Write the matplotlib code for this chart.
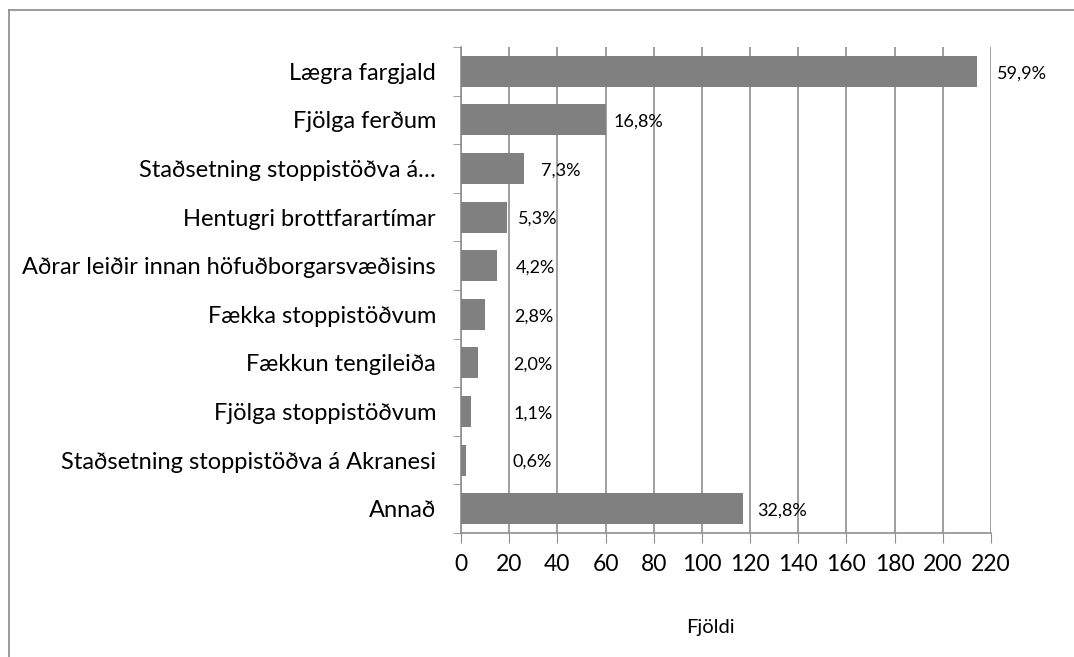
import numpy as np
import matplotlib
matplotlib.use('Agg')
import matplotlib.pyplot as plt
from matplotlib.lines import Line2D

categories = [
    'Lægra fargjald',
    'Fjölga ferðum',
    'Staðsetning stoppistöðva á…',
    'Hentugri brottfarartímar',
    'Aðrar leiðir innan höfuðborgarsvæðisins',
    'Fækka stoppistöðvum',
    'Fækkun tengileiða',
    'Fjölga stoppistöðvum',
    'Staðsetning stoppistöðva á Akranesi',
    'Annað',
]
counts = [214, 60, 26, 19, 15, 10, 7, 4, 2, 117]
percent_labels = ['59,9%', '16,8%', '7,3%', '5,3%', '4,2%',
                  '2,8%', '2,0%', '1,1%', '0,6%', '32,8%']
x_ticks = list(range(0, 221, 20))

# label offsets from bar end, in pixels (labels were hand placed in the original)
label_offsets = [20, 8, 17, 11, 19, 29, 35, 43, 47, 14]

plt.rcParams['font.family'] = ['Lato', 'DejaVu Sans']

fig = plt.figure(figsize=(10.74, 6.57), dpi=100)
ax = fig.add_axes([461 / 1074, 1 - 533 / 657, 530 / 1074, 486 / 657])

grid_col = '#8f8f8f'
y = np.arange(len(categories))
ax.barh(y, counts, height=0.64, color='#808080', zorder=3)

ax.set_xlim(0, 220)
ax.set_ylim(len(categories) - 0.5, -0.5)
ax.set_xticks(x_ticks)
ax.set_xticklabels([str(t) for t in x_ticks], fontsize=16.5)
ax.set_yticks(y)
ax.set_yticklabels(categories, fontsize=17)
ax.set_yticks(np.arange(-0.5, len(categories)), minor=True)
ax.tick_params(axis='y', which='major', length=0, pad=18)
ax.tick_params(axis='y', which='minor', length=6, color=grid_col, direction='out')
ax.tick_params(axis='x', length=7, color=grid_col, pad=8)
ax.xaxis.grid(True, color=grid_col, linewidth=1.2, zorder=0)

for side in ['top', 'right']:
    ax.spines[side].set_visible(False)
for side in ['left', 'bottom']:
    ax.spines[side].set_color(grid_col)
    ax.spines[side].set_linewidth(1.2)

for yi, (v, lab, off) in enumerate(zip(counts, percent_labels, label_offsets)):
    ax.annotate(lab, xy=(v, yi), xytext=(off, -2), textcoords='offset pixels',
                ha='left', va='center', fontsize=13, zorder=4)

fig.text(710 / 1074, 1 - 627 / 657, 'Fjöldi', ha='center', va='center', fontsize=14.5)

# outer chart frame (runs off the right and bottom edge)
fig.add_artist(Line2D([9 / 1074, 9 / 1074], [0, 1 - 10 / 657],
                      transform=fig.transFigure, color='#8a8a8a', linewidth=1.2))
fig.add_artist(Line2D([9 / 1074, 1], [1 - 10 / 657, 1 - 10 / 657],
                      transform=fig.transFigure, color='#8a8a8a', linewidth=1.2))

fig.savefig('out.png', dpi=100)
